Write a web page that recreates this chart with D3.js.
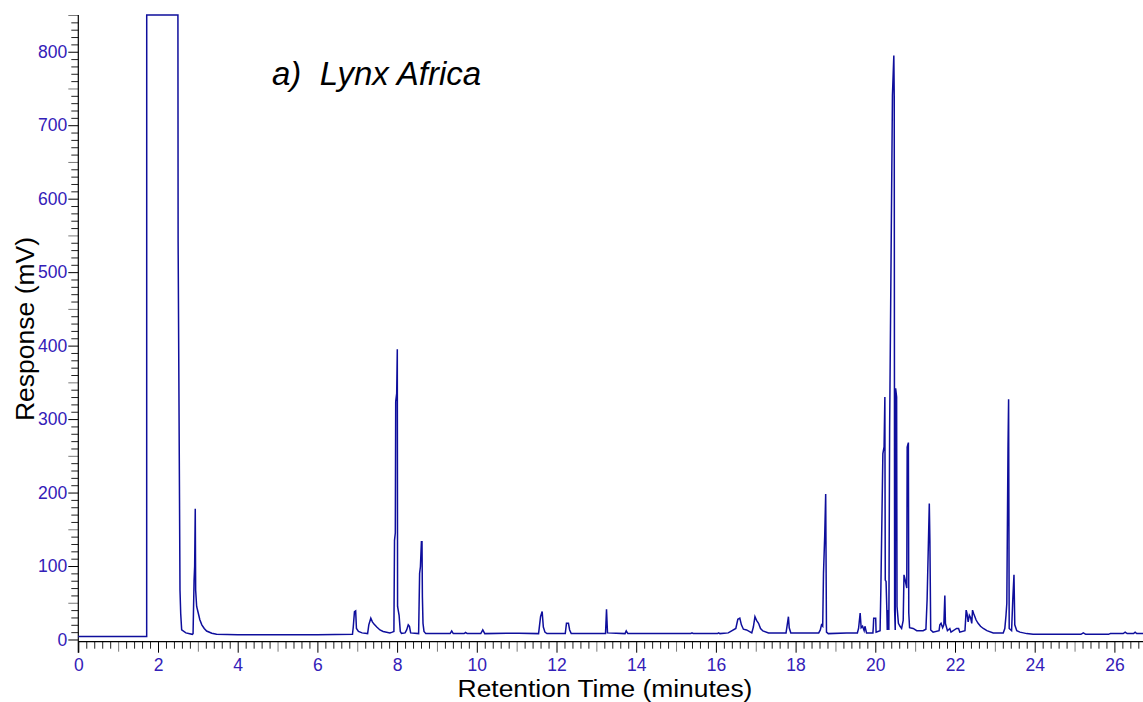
<!DOCTYPE html>
<html>
<head>
<meta charset="utf-8">
<script src="https://cdn.jsdelivr.net/npm/d3@7"></script>
<style>
  html, body { margin: 0; padding: 0; background: #ffffff; }
  svg { display: block; font-family: "Liberation Sans", Arial, sans-serif; }
</style>
</head>
<body>
<svg id="chart" width="1143" height="702"></svg>
<script>
// Chromatogram trace: retention time (min) and detector response (mV)
const retentionTime = [
  0.00, 1.70, 1.716, 1.717, 2.50, 2.505, 2.552, 2.57, 2.594, 2.70, 2.86,
  2.88, 2.905, 2.92, 2.935, 2.945, 2.97, 3.01, 3.05, 3.10, 3.16, 3.22, 3.35, 3.47, 4.00, 6.00,
  6.88, 6.90, 6.93, 6.96, 6.98, 7.03, 7.12, 7.26, 7.29, 7.34, 7.38, 7.42, 7.49, 7.57, 7.65, 7.82,
  7.88, 7.92, 7.935, 7.955, 7.965, 7.99, 8.005, 8.012, 8.05, 8.08, 8.11, 8.20, 8.24, 8.28, 8.31, 8.34,
  8.54, 8.565, 8.585, 8.61, 8.625, 8.635, 8.65, 8.675, 8.72,
  9.33, 9.37, 9.41, 9.68, 9.72, 9.76, 10.10, 10.15, 10.20, 10.75, 11.05,
  11.55, 11.60, 11.64, 11.67, 11.71, 11.76, 12.22, 12.25, 12.30, 12.33, 12.37,
  13.23, 13.255, 13.28, 13.72, 13.75, 13.79, 15.37, 15.40, 15.43, 16.04, 16.07, 16.10,
  16.31, 16.50, 16.55, 16.60, 16.64, 16.69, 16.77, 16.90, 16.94, 16.98, 17.02, 17.07, 17.12, 17.18, 17.32,
  17.76, 17.79, 17.82, 17.84, 17.88, 18.58, 18.62, 18.65, 18.68, 18.70, 18.73, 18.755, 18.775, 18.82,
  19.28, 19.55, 19.58, 19.62, 19.645, 19.68, 19.72, 19.74, 19.78, 19.94, 19.95, 19.96, 20.01, 20.02,
  20.12, 20.14, 20.19, 20.22, 20.24, 20.25, 20.27, 20.29, 20.30, 20.32, 20.34, 20.36, 20.43, 20.465,
  20.475, 20.485, 20.50, 20.51, 20.535, 20.545, 20.58, 20.62, 20.66, 20.70, 20.72, 20.75, 20.79, 20.80,
  20.83, 20.84, 20.86, 20.95, 21.04, 21.20, 21.27, 21.30, 21.355, 21.37, 21.39, 21.45,
  21.60, 21.62, 21.65, 21.69, 21.72, 21.745, 21.76, 21.81, 21.87, 21.90, 22.04, 22.09, 22.12,
  22.25, 22.28, 22.30, 22.33, 22.36, 22.39, 22.42, 22.44, 22.47, 22.53, 22.58, 22.64, 22.71, 22.80, 22.96,
  23.21, 23.25, 23.28, 23.30, 23.33, 23.345, 23.36, 23.42, 23.45, 23.48, 23.50, 23.55, 23.63, 23.80, 23.96,
  25.16, 25.22, 25.28, 25.85, 25.90, 26.22, 26.27, 26.32, 26.48, 26.52, 26.56, 26.73
];
const response = [
  4, 4, 4, 850, 850, 541, 67, 35, 13, 9, 7,
  8, 80, 100, 178, 67, 45, 36, 27, 20, 15, 11.5, 8.5, 7, 6.5, 6.5,
  7, 17, 38, 39, 15, 11, 9, 8, 20, 29, 24, 21, 17, 13, 11, 9,
  10, 11, 135, 145, 324, 335, 395, 45, 33, 11, 8.4, 9, 13, 20, 18, 9,
  8, 90, 99, 133, 133, 58, 22, 11, 8,
  8, 11.5, 8, 8, 9.5, 8, 8, 13, 8, 8.5, 8.5,
  8, 31, 38, 17, 10, 8, 8, 22, 22, 13, 8,
  8, 41, 9, 8, 11.6, 8, 8, 9, 8, 8, 9, 8,
  9, 15, 27.5, 29, 20, 14, 13, 9, 17, 31, 26, 22, 15, 11.6, 9,
  9, 20, 31, 16, 9, 9, 13, 20, 18, 90, 140, 198, 10, 8,
  9, 9, 15, 36, 16, 18, 12, 18, 9, 9, 17, 29, 29, 10,
  12, 70, 253, 262, 330, 81, 79, 40, 13, 40, 13, 290, 740, 795,
  740, 40, 13, 342, 330, 45, 22, 18, 15, 26, 88, 81, 70, 262,
  268, 36, 16, 15, 12, 12, 14, 54, 185, 135, 13, 10,
  12, 20, 22, 16, 20, 60, 22, 12, 15, 10, 15, 15, 10,
  12, 40, 36, 24, 33, 30, 22, 40, 35, 26.5, 22, 18, 15, 12, 9,
  9, 15, 33, 49, 260, 327, 15, 12, 54, 88, 20, 12, 10, 8, 7,
  7, 9, 7, 7, 8, 8, 10, 8, 8, 10, 8, 8
];

// Axis ticks and labels
const xMajorTicks = [0, 2, 4, 6, 8, 10, 12, 14, 16, 18, 20, 22, 24, 26];
const xMajorLabels = ["0", "2", "4", "6", "8", "10", "12", "14", "16", "18", "20", "22", "24", "26"];
const yMajorTicks = [0, 100, 200, 300, 400, 500, 600, 700, 800];
const yMajorLabels = ["0", "100", "200", "300", "400", "500", "600", "700", "800"];

const chartTitle = "a)  Lynx Africa";
const xTitle = "Retention Time (minutes)";
const yTitle = "Response (mV)";

const traceColor = "#0e0e9c";
const labelColor = "#3320b8";

const svg = d3.select("#chart");
const W = 1143, H = 702;
const plotLeft = 78.3, plotRight = 1143, plotTop = 15, plotBottom = 641.7;

const x = d3.scaleLinear().domain([0, (plotRight - plotLeft) / 39.85]).range([plotLeft, plotRight]);
const y = d3.scaleLinear().domain([-3, 850]).range([plotBottom, plotTop]);

svg.append("rect").attr("width", W).attr("height", H).attr("fill", "#ffffff");

// Minor / mid / major tick sets for the x axis
const xMinor = d3.range(0, 26.8, 0.2).filter(v => Math.abs(v - Math.round(v)) > 1e-6);
const xMid = d3.range(1, 27, 2);

function tickGroup(axis, transform, color) {
  const g = svg.append("g").attr("transform", transform).call(axis);
  g.select(".domain").remove();
  g.selectAll(".tick line").attr("stroke", color).attr("stroke-width", 1);
  return g;
}

tickGroup(d3.axisBottom(x).tickValues(xMinor).tickSize(7).tickFormat(""), `translate(0,${plotBottom})`, "#222");
tickGroup(d3.axisBottom(x).tickValues(xMid).tickSize(10).tickFormat(""), `translate(0,${plotBottom})`, "#7a7a7a");
const gxMajor = tickGroup(
  d3.axisBottom(x).tickValues(xMajorTicks).tickSize(11).tickPadding(6)
    .tickFormat((d, i) => xMajorLabels[i]),
  `translate(0,${plotBottom})`, "#000");
gxMajor.selectAll(".tick text")
  .attr("fill", labelColor).attr("font-size", 17.5)
  .attr("font-family", "Liberation Sans, Arial, sans-serif");

// y axis ticks
const yMinor = d3.range(0, 851, 10).filter(v => v % 50 !== 0);
const yMid = d3.range(50, 851, 100);
tickGroup(d3.axisLeft(y).tickValues(yMinor).tickSize(7).tickFormat(""), `translate(${plotLeft},0)`, "#222");
tickGroup(d3.axisLeft(y).tickValues(yMid).tickSize(10).tickFormat(""), `translate(${plotLeft},0)`, "#7a7a7a");
const gyMajor = tickGroup(
  d3.axisLeft(y).tickValues(yMajorTicks).tickSize(10).tickPadding(1)
    .tickFormat((d, i) => yMajorLabels[i]),
  `translate(${plotLeft},0)`, "#000");
gyMajor.selectAll(".tick text")
  .attr("fill", labelColor).attr("font-size", 17.5)
  .attr("font-family", "Liberation Sans, Arial, sans-serif");

// axis lines
svg.append("line").attr("x1", plotLeft).attr("x2", plotRight).attr("y1", plotBottom).attr("y2", plotBottom)
  .attr("stroke", "#000").attr("stroke-width", 1.2);
svg.append("line").attr("x1", plotLeft).attr("x2", plotLeft).attr("y1", plotTop).attr("y2", plotBottom + 11)
  .attr("stroke", "#000").attr("stroke-width", 1.2);

// trace
const pts = retentionTime.map((t, i) => [t, response[i]]);
const line = d3.line().x(d => x(d[0])).y(d => y(d[1]));
svg.append("path")
  .datum(pts)
  .attr("d", line)
  .attr("fill", "none")
  .attr("stroke", traceColor)
  .attr("stroke-width", 1.5)
  .attr("stroke-linejoin", "miter");

// titles
svg.append("text")
  .attr("x", 272).attr("y", 85)
  .attr("font-size", 33).attr("font-style", "italic")
  .style("white-space", "pre")
  .attr("fill", "#000")
  .text(chartTitle);

// x title: slightly wide lettering
svg.append("text")
  .attr("transform", "translate(605,697) scale(1.1,1)")
  .attr("text-anchor", "middle")
  .attr("font-size", 24).attr("fill", "#000")
  .text(xTitle);

svg.append("text")
  .attr("transform", `translate(34,${329}) rotate(-90)`)
  .attr("text-anchor", "middle")
  .attr("font-size", 26.5).attr("fill", "#000")
  .text(yTitle);
</script>
</body>
</html>
